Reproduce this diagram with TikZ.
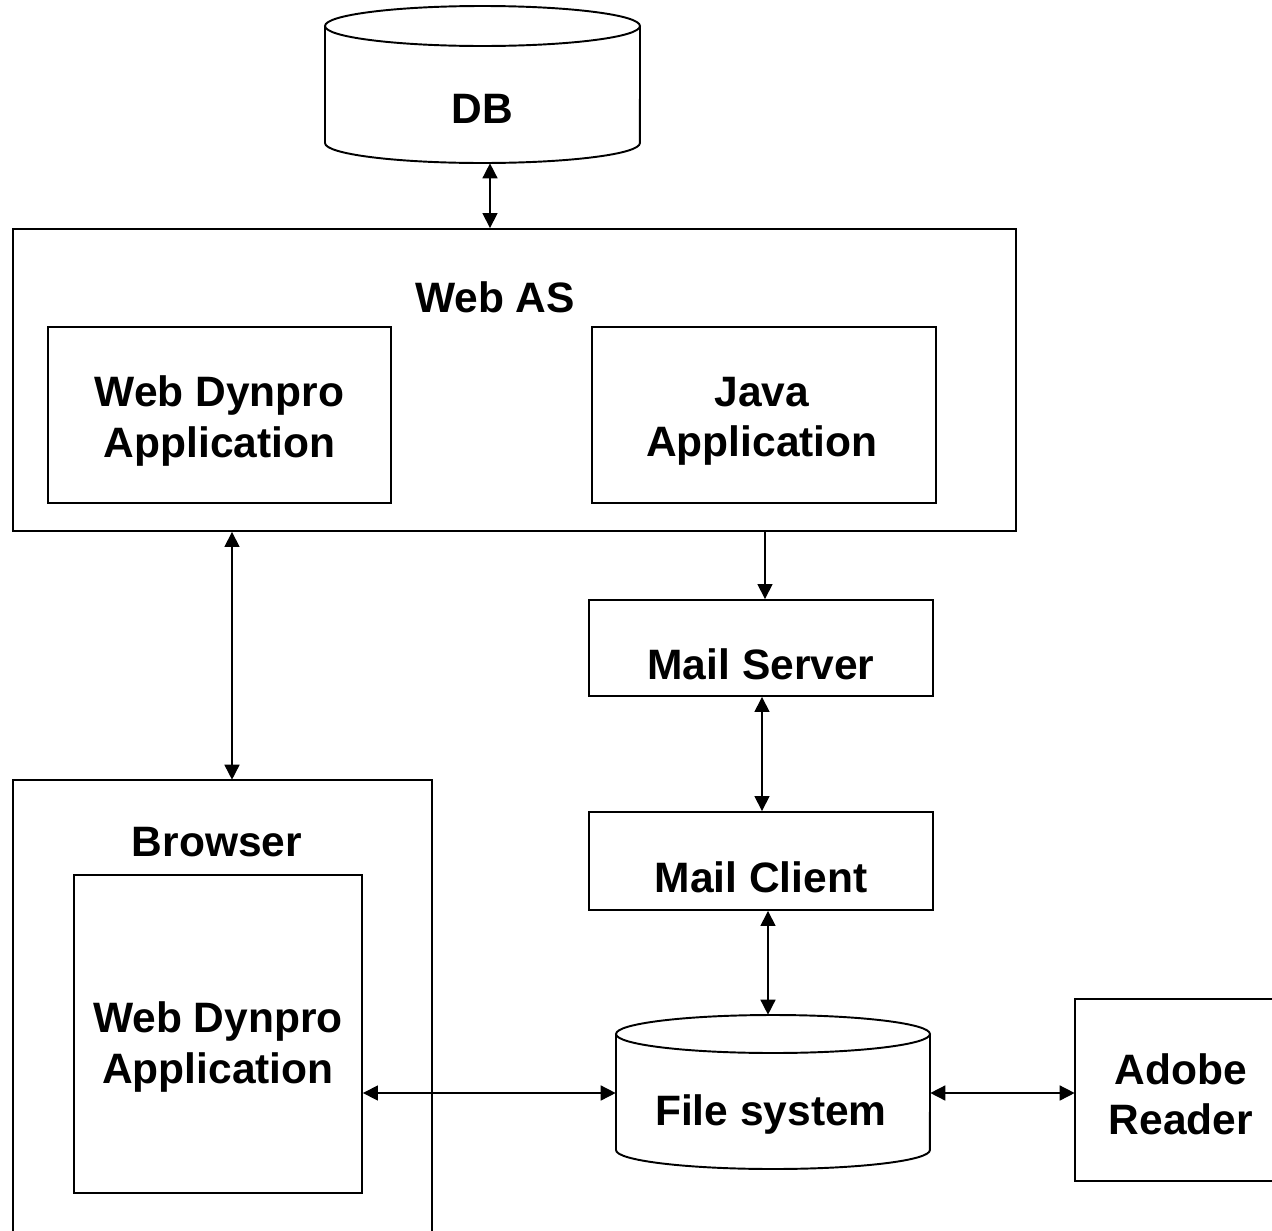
\documentclass[tikz,border=0pt]{standalone}
\usepackage{fontspec}
\setmainfont{Liberation Sans}
\usetikzlibrary{arrows.meta}
\begin{document}
\begin{tikzpicture}[x=0.02cm,y=-0.02cm,
  box/.style={draw,line width=1.1pt,rectangle,inner sep=0pt},
  ghost/.style={draw=none,rectangle,inner sep=0pt},
  lbl/.style={align=center,inner sep=0pt,font=\bfseries\fontsize{24.2}{28.5}\selectfont},
  conn/.style={line width=0.9pt,-{Triangle[length=0.3cm,width=0.3cm]}},
  bconn/.style={line width=0.9pt,{Triangle[length=0.3cm,width=0.3cm]}-{Triangle[length=0.3cm,width=0.3cm]}},
  cyl/.style={line width=1.1pt}]
\useasboundingbox (0,0) rectangle (1272,1231);
\fill[white] (0,0) rectangle (1272,1231);

% DB cylinder
\node[ghost,minimum width=6.3cm,minimum height=3.14cm] (db) at (482.5,84.5) {};
\draw[cyl] (482.5,26) ellipse [x radius=3.15cm,y radius=0.4cm];
\draw[cyl] (325,26) -- (325,143) arc[start angle=180,end angle=360,x radius=3.15cm,y radius=0.4cm] -- (640,26);
\node[lbl] (dbt) at (482.5,109) {DB};

% Web AS
\node[box,minimum width=20.06cm,minimum height=6.04cm] (webas) at (514.5,380) {};
\node[lbl] (webast) at (495,297) {Web AS};
\node[box,minimum width=6.86cm,minimum height=3.52cm] (wd1) at (219.5,415) {};
\node[lbl] (wd1t) at (219.5,421) {Web Dynpro\\Application};
\node[box,minimum width=6.88cm,minimum height=3.52cm] (java) at (764,415) {};
\node[lbl] (javat) at (762,421) {Java\\Application};

% Mail server / client
\node[box,minimum width=6.88cm,minimum height=1.92cm] (ms) at (761,648) {};
\node[lbl] (mst) at (761,664) {Mail Server};
\node[box,minimum width=6.88cm,minimum height=1.96cm] (mc) at (761,861) {};
\node[lbl] (mct) at (761,877) {Mail Client};

% Browser (open at bottom)
\node[ghost,minimum width=8.38cm,minimum height=9.02cm] (browser) at (222.5,1005.5) {};
\draw[line width=1.1pt] (browser.south west) -- (browser.north west) -- (browser.north east) -- (browser.south east);
\node[lbl] (browsert) at (217,842) {Browser};
\node[box,minimum width=5.76cm,minimum height=6.36cm] (wd2) at (218,1034) {};
\node[lbl] (wd2t) at (218,1047) {Web Dynpro\\Application};

% File system cylinder
\node[ghost,minimum width=6.28cm,minimum height=3.08cm] (fs) at (773,1092) {};
\draw[cyl] (773,1034) ellipse [x radius=3.14cm,y radius=0.38cm];
\draw[cyl] (616,1034) -- (616,1150) arc[start angle=180,end angle=360,x radius=3.14cm,y radius=0.38cm] -- (930,1034);
\node[lbl] (fst) at (771,1114) {File system};

% Adobe Reader (open at right)
\node[ghost,minimum width=3.94cm,minimum height=3.64cm] (adobe) at (1173.5,1090) {};
\draw[line width=1.1pt] (adobe.north east) -- (adobe.north west) -- (adobe.south west) -- (adobe.south east);
\node[lbl] (adobet) at (1181,1094) {Adobe\\Reader};

% connector guides
\coordinate (x1) at (490,0);
\coordinate (x2) at (232,0);
\coordinate (x3) at (765,0);
\coordinate (x4) at (762,0);
\coordinate (x5) at (768,0);
\coordinate (y1) at (0,1093);

\draw[bconn] (x1 |- db.south) -- (x1 |- webas.north);
\draw[bconn] (x2 |- webas.south) -- (x2 |- browser.north);
\draw[conn] (x3 |- webas.south) -- (x3 |- ms.north);
\draw[bconn] (x4 |- ms.south) -- (x4 |- mc.north);
\draw[bconn] (x5 |- mc.south) -- (x5 |- fs.north);
\draw[bconn] (wd2.east |- y1) -- (fs.west |- y1);
\draw[bconn] (fs.east |- y1) -- (adobe.west |- y1);
\end{tikzpicture}
\end{document}
